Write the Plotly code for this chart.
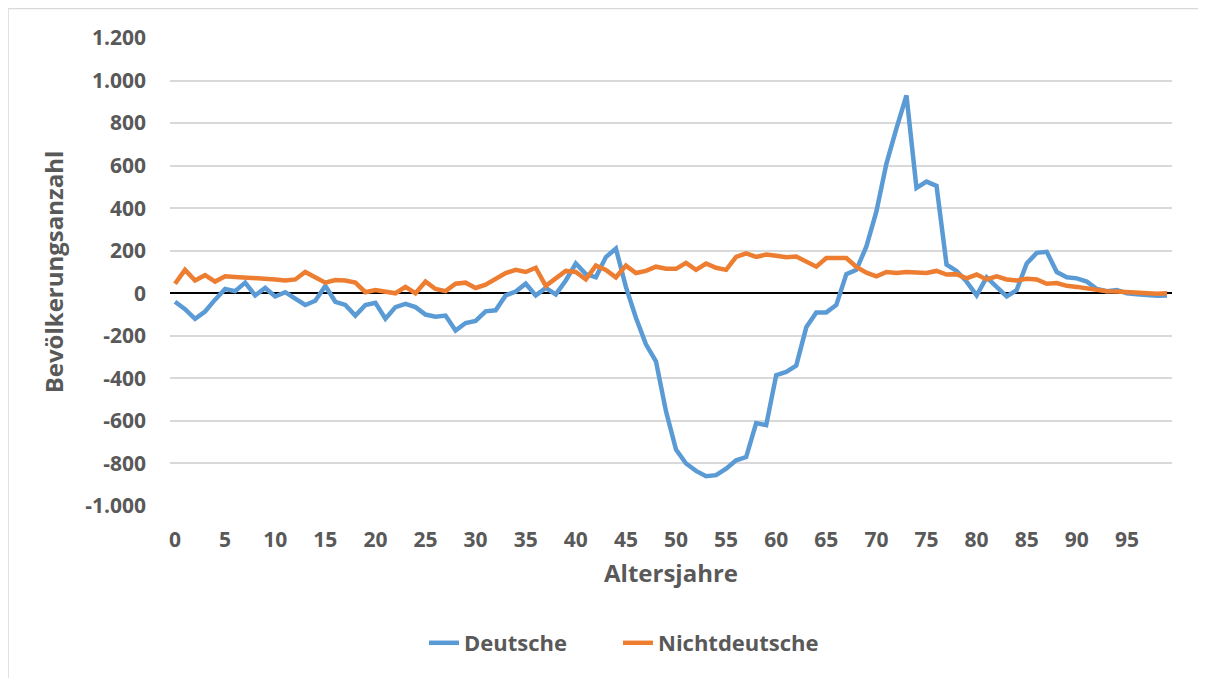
import plotly.graph_objects as go

ages = list(range(100))

deutsche = [
    -40, -75, -120, -86, -30, 20, 10, 50, -10, 25,
    -15, 5, -25, -55, -35, 35, -40, -55, -105, -55,
    -45, -120, -65, -50, -65, -100, -110, -105, -175, -140,
    -130, -85, -80, -10, 8, 45, -10, 25, -5, 60,
    140, 90, 75, 170, 210, 30, -115, -240, -320, -555,
    -735, -800, -835, -860, -855, -825, -785, -770, -610, -620,
    -385, -370, -340, -160, -90, -90, -55, 90, 110, 220,
    385, 610, 775, 930, 495, 525, 505, 135, 105, 55,
    -10, 75, 30, -15, 15, 140, 190, 195, 100, 75,
    70, 55, 20, 10, 15, 0, -5, -10, -12, -10,
]

nichtdeutsche = [
    45, 110, 60, 85, 55, 80, 77, 75, 68, 66,
    65, 60, 65, 100, 75, 50, 62, 60, 50, 5,
    15, 8, 0, 30, 0, 55, 20, 10, 45, 50,
    25, 40, 70, 95, 110, 100, 120, 35, 70, 105,
    100, 65, 130, 110, 75, 130, 95, 105, 125, 115,
    115, 143, 110, 140, 120, 110, 171, 187, 171, 182,
    176, 169, 173, 147, 125, 166, 166, 166, 124, 97,
    80, 100, 95, 100, 98, 95, 105, 88, 90, 70,
    88, 65, 80, 65, 60, 68, 65, 45, 48, 35,
    30, 22, 15, 10, 8, 5, 0, -3, -2, 0,
]

y_ticks = [-1000, -800, -600, -400, -200, 0, 200, 400, 600, 800, 1000, 1200]
y_ticklabels = ["-1.000", "-800", "-600", "-400", "-200", "0", "200", "400",
                "600", "800", "1.000", "1.200"]
x_ticks = list(range(0, 100, 5))

FONT = "Open Sans"
GRAY = "#595959"
BORDER = "#D9D9D9"

fig = go.Figure()
fig.add_trace(go.Scatter(x=ages, y=deutsche, mode="lines", name="Deutsche",
                         line=dict(color="#5B9BD5", width=4.5), legend="legend"))
fig.add_trace(go.Scatter(x=ages, y=nichtdeutsche, mode="lines", name="Nichtdeutsche",
                         line=dict(color="#ED7D31", width=4.5), legend="legend2"))

# figure is placed 8px from the page corner by the browser's body margin
W, H = 1198, 670
L, R, T, B = 162, 34, 30, 172
pw, ph = W - L - R, H - T - B

def px(x):
    return (x - L) / pw

def py(y):
    return (H - B - y) / ph

border = dict(type="line", xref="paper", yref="paper",
              line=dict(color=BORDER, width=1.5), layer="below")

legend_font = dict(family=FONT, size=22, color=GRAY, weight="bold")

fig.update_layout(
    width=W, height=H,
    margin=dict(l=L, r=R, t=T, b=B),
    paper_bgcolor="white", plot_bgcolor="white",
    font=dict(family=FONT, color=GRAY, size=21),
    showlegend=True,
    legend=dict(orientation="h", xref="container", yref="container",
                x=416 / W, xanchor="left", y=1 - 635 / H, yanchor="middle",
                font=legend_font, bgcolor="rgba(0,0,0,0)"),
    legend2=dict(orientation="h", xref="container", yref="container",
                 x=610 / W, xanchor="left", y=1 - 635 / H, yanchor="middle",
                 font=legend_font, bgcolor="rgba(0,0,0,0)"),
    xaxis=dict(range=[-0.5, 99.5], tickmode="array", tickvals=x_ticks,
               showgrid=False, zeroline=False, showline=False,
               ticks="", tickfont=dict(family=FONT, size=21, color=GRAY, weight="bold"),
               ticklabelstandoff=19,
               title=dict(text="Altersjahre", standoff=13,
                          font=dict(family=FONT, size=24, color=GRAY, weight="bold"))),
    yaxis=dict(range=[-1000, 1200], tickmode="array", tickvals=y_ticks,
               ticktext=y_ticklabels, showgrid=True, gridcolor="#D9D9D9", gridwidth=1.5,
               zeroline=True, zerolinecolor="black", zerolinewidth=2,
               showline=False, ticks="",
               tickfont=dict(family=FONT, size=21, color=GRAY, weight="bold"),
               ticklabelstandoff=23,
               title=dict(text="Bevölkerungsanzahl", standoff=14,
                          font=dict(family=FONT, size=24, color=GRAY, weight="bold"))),
    shapes=[
        dict(border, x0=px(0), x1=px(W + 10), y0=py(0.5), y1=py(0.5)),
        dict(border, x0=px(0), x1=px(0), y0=py(0.5), y1=py(H + 10)),
    ],
)

fig.write_html("out.html")
